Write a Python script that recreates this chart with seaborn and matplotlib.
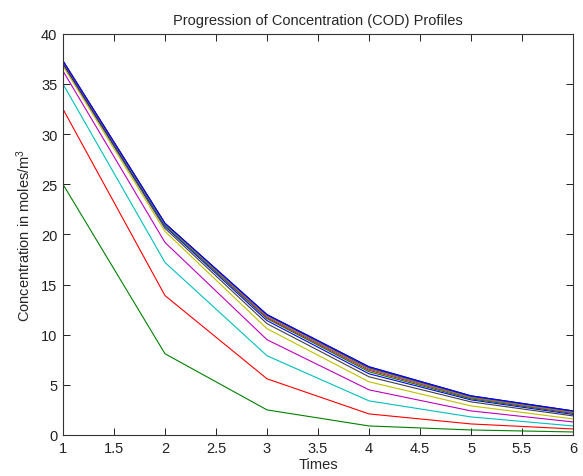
import numpy as np
import pandas as pd
import matplotlib
matplotlib.use("Agg")
import matplotlib.pyplot as plt
import seaborn as sns

# ── Data ──────────────────────────────────────────────────────────────────────
times = [1, 2, 3, 4, 5, 6]

profiles = [
    [37.3, 21.1, 12.0, 6.8, 3.9, 2.4],
    [25.0, 8.1, 2.5, 0.9, 0.5, 0.3],
    [32.5, 13.9, 5.6, 2.1, 1.1, 0.6],
    [35.0, 17.2, 7.9, 3.4, 1.8, 0.9],
    [36.3, 19.2, 9.5, 4.5, 2.4, 1.3],
    [36.8, 20.3, 10.6, 5.3, 2.9, 1.6],
    [37.0, 20.6, 11.1, 5.8, 3.3, 1.9],
    [37.1, 20.8, 11.4, 6.1, 3.5, 2.05],
    [37.2, 20.9, 11.6, 6.3, 3.6, 2.15],
    [37.2, 21.0, 11.7, 6.45, 3.7, 2.2],
    [37.25, 21.0, 11.8, 6.55, 3.75, 2.25],
    [37.25, 21.05, 11.85, 6.6, 3.8, 2.3],
    [37.3, 21.05, 11.9, 6.65, 3.82, 2.32],
    [37.3, 21.1, 11.95, 6.7, 3.85, 2.35],
    [37.3, 21.1, 12.0, 6.8, 3.9, 2.4],
]

# MATLAB default colour order (b g r c m y k)
matlab_colors = [(0, 0, 1), (0, 0.5, 0), (1, 0, 0), (0, 0.75, 0.75),
                 (0.75, 0, 0.75), (0.75, 0.75, 0), (0.25, 0.25, 0.25)]

sns.set_style("ticks")
plt.rcParams["font.family"] = ["Liberation Sans", "DejaVu Sans"]
plt.rcParams["mathtext.fontset"] = "custom"
plt.rcParams["mathtext.rm"] = "Liberation Sans"
plt.rcParams["mathtext.it"] = "Liberation Sans"

fig = plt.figure(figsize=(5.83, 4.77), dpi=100)
ax = fig.add_axes([0.108, 0.086, 0.875, 0.841])

for i, vals in enumerate(profiles):
    df = pd.DataFrame({"t": times, "c": vals})
    sns.lineplot(data=df, x="t", y="c", ax=ax,
                 color=matlab_colors[i % 7], linewidth=0.8)

ax.set_xlim(1, 6)
ax.set_ylim(0, 40)
ax.set_xticks(np.arange(1, 6.01, 0.5))
ax.set_xticklabels(["1", "1.5", "2", "2.5", "3", "3.5", "4", "4.5", "5", "5.5", "6"])
ax.set_yticks(np.arange(0, 41, 5))

for s in ax.spines.values():
    s.set_visible(True)
    s.set_color("#333333")
    s.set_linewidth(0.8)
ax.tick_params(direction="in", length=5, width=0.7, top=True, right=True,
               labelsize=10.5, colors="#222222", pad=4)

ax.set_xlabel("Times", fontsize=10.5, labelpad=2)
ax.set_ylabel("Concentration in moles/m$^3$", fontsize=10.5, labelpad=6)
ax.set_title("Progression of Concentration (COD) Profiles", fontsize=10.5, pad=7)

fig.savefig("out.png", dpi=100)
